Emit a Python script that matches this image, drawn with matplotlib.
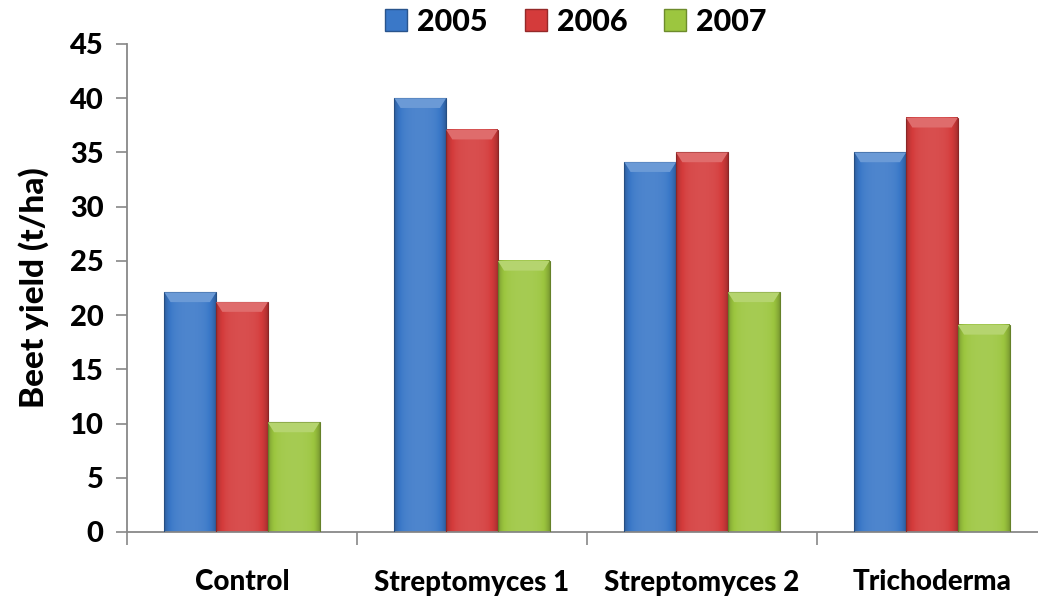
import numpy as np
import matplotlib
matplotlib.use('Agg')
import matplotlib.pyplot as plt
from matplotlib.patches import Rectangle, Polygon
from matplotlib.colors import to_rgb

categories = ['Control', 'Streptomyces 1', 'Streptomyces 2', 'Trichoderma']
years = ['2005', '2006', '2007']
y2005 = [22.1, 40.0, 34.1, 35.0]
y2006 = [21.2, 37.1, 35.0, 38.2]
y2007 = [10.1, 25.0, 22.1, 19.1]
yticks = [0, 5, 10, 15, 20, 25, 30, 35, 40, 45]

colors = ['#3a78c8', '#d43b3b', '#9cc63f']

plt.rcParams['font.family'] = ['Lato', 'DejaVu Sans']
FW = 'black'


def shade(c, f):
    c = np.array(to_rgb(c))
    if f < 0:
        return c * (1 + f)
    return c + (1 - c) * f


def gradient_bar(ax, x0, w, h, color):
    # horizontal shading: darker edges, lighter middle (excel bevel look)
    t = np.linspace(-1, 1, 64)
    prof = 0.10 * (1 - t ** 2) - 0.22 * np.abs(t) ** 6
    img = np.array([[shade(color, p) for p in prof]])
    ax.imshow(img, extent=(x0, x0 + w, 0, h), aspect='auto', zorder=2,
              interpolation='bilinear')
    ax.add_patch(Rectangle((x0, 0), w, h, fill=False,
                           edgecolor=shade(color, -0.35), lw=0.8, zorder=3))
    # bevel on the top
    bh = 0.9
    inset = w * 0.12
    ax.add_patch(Polygon([(x0, h), (x0 + w, h), (x0 + w - inset, h - bh),
                          (x0 + inset, h - bh)], closed=True,
                         facecolor=shade(color, 0.25), edgecolor='none', zorder=3))


fig = plt.figure(figsize=(10.38, 5.97), dpi=100)
ax = fig.add_axes([127 / 1038, 1 - 532 / 597, 920 / 1038, 488 / 597])

x = np.arange(len(categories))
bw = 0.225
for i, (vals, col) in enumerate(zip([y2005, y2006, y2007], colors)):
    for xi, v in zip(x, vals):
        gradient_bar(ax, xi + (i - 1.5) * bw, bw, v, col)

ax.set_xlim(-0.5, len(categories) - 0.5)
ax.set_ylim(0, 45)
ax.set_yticks(yticks)
ax.set_yticklabels([str(v) for v in yticks], fontsize=21, fontweight=FW)
ax.set_xticks(x)
ax.set_xticklabels(categories, fontsize=20, fontweight=FW)
ax.set_xticks(np.arange(-0.5, len(categories)), minor=True)
ax.tick_params(axis='x', which='major', length=0, pad=27)
ax.tick_params(axis='x', which='minor', length=9, width=1.2, color='#888888',
               direction='out')
ax.tick_params(axis='y', length=8, width=1.2, color='#888888', pad=9)
ax.set_ylabel('Beet yield (t/ha)', fontsize=24, fontweight=FW, labelpad=15)

for s in ['top', 'right']:
    ax.spines[s].set_visible(False)
for s in ['left', 'bottom']:
    ax.spines[s].set_color('#888888')
    ax.spines[s].set_linewidth(1.3)

handles = [Rectangle((0, 0), 1, 1, facecolor=c, edgecolor=shade(c, -0.3))
           for c in colors]
fig.legend(handles, years, loc='center', bbox_to_anchor=(576 / 1038, 1 - 22 / 597),
           ncol=3, frameon=False, prop={'size': 22, 'weight': FW},
           handlelength=0.72, handleheight=0.72, handletextpad=0.33,
           columnspacing=1.2)

fig.savefig('out.png', dpi=100, facecolor='white')
